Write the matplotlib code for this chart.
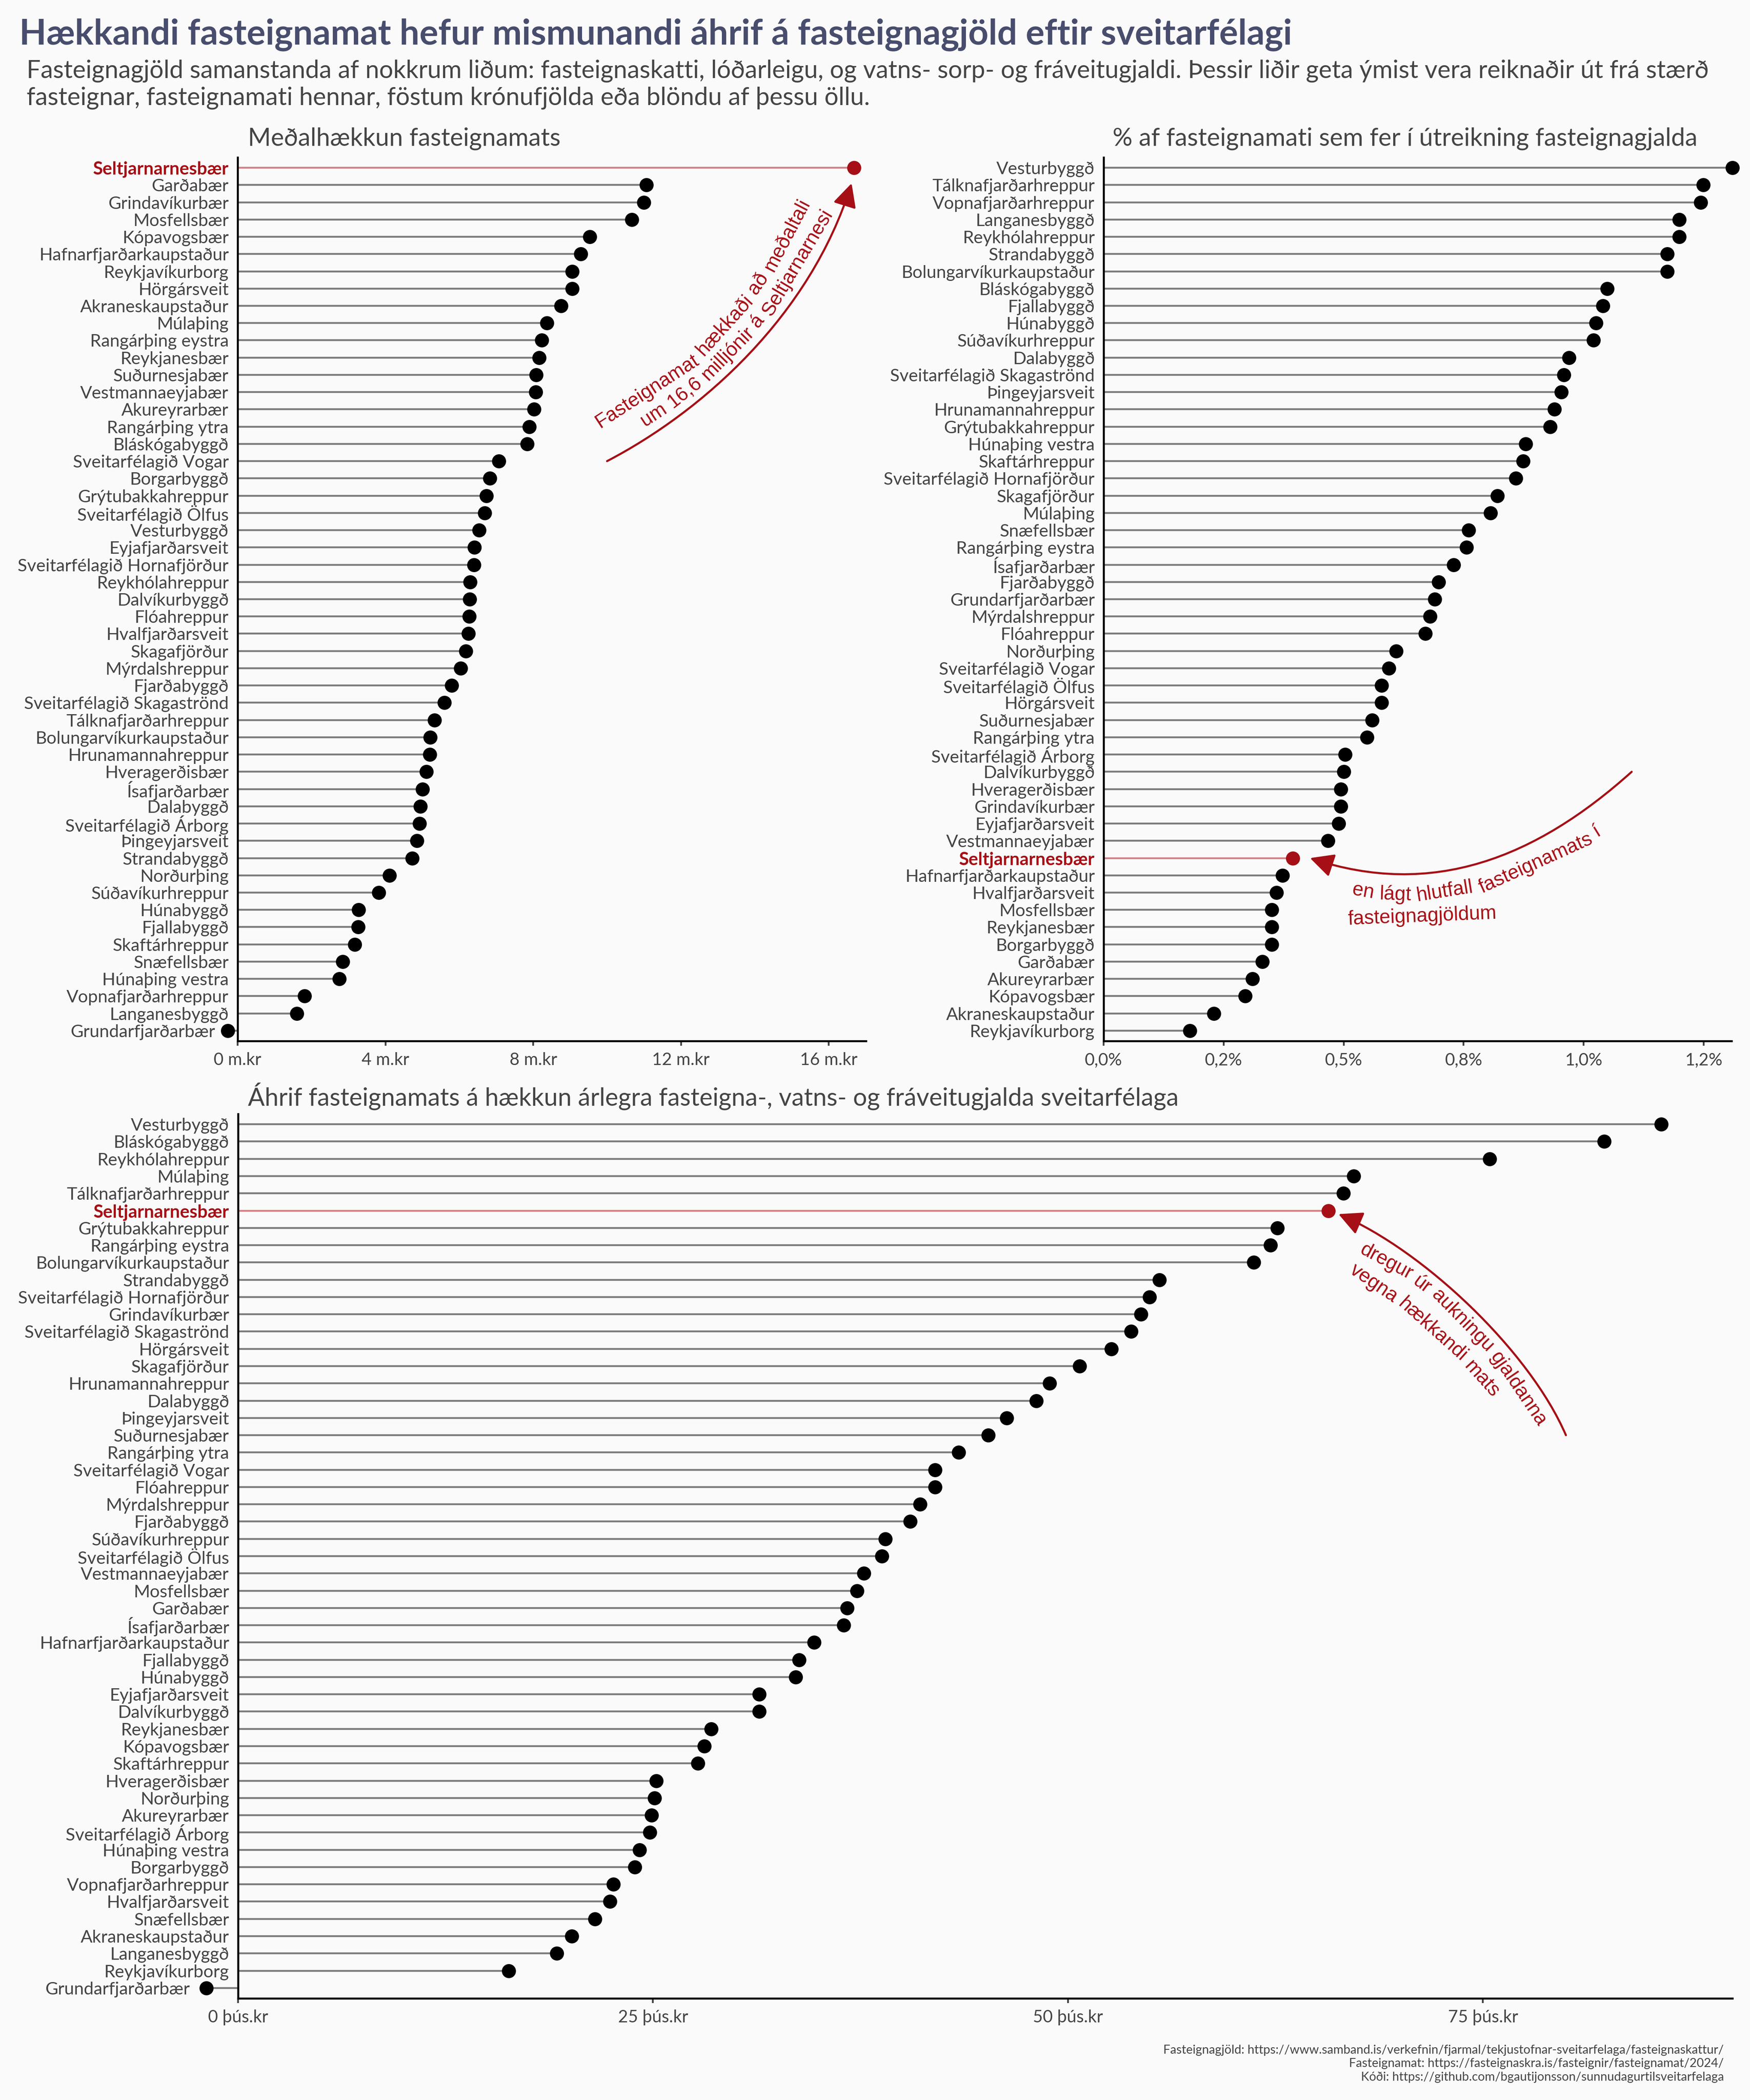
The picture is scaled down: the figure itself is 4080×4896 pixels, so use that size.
import matplotlib
matplotlib.use('Agg')
import matplotlib.pyplot as plt
import numpy as np
from matplotlib.patches import FancyArrowPatch
from matplotlib.path import Path

plt.rcParams['font.family'] = ['Lato', 'DejaVu Sans']

W, H = 4080, 4896
BG = '#fafafa'
RED = '#a50f15'
GREY = '#444444'
HL = 'Seltjarnarnesbær'

# Meðalhækkun fasteignamats (m.kr)
names_hækkun = [
    'Seltjarnarnesbær', 'Garðabær', 'Grindavíkurbær', 'Mosfellsbær', 'Kópavogsbær',
    'Hafnarfjarðarkaupstaður', 'Reykjavíkurborg', 'Hörgársveit', 'Akraneskaupstaður',
    'Múlaþing', 'Rangárþing eystra', 'Reykjanesbær', 'Suðurnesjabær', 'Vestmannaeyjabær',
    'Akureyrarbær', 'Rangárþing ytra', 'Bláskógabyggð', 'Sveitarfélagið Vogar',
    'Borgarbyggð', 'Grýtubakkahreppur', 'Sveitarfélagið Ölfus', 'Vesturbyggð',
    'Eyjafjarðarsveit', 'Sveitarfélagið Hornafjörður', 'Reykhólahreppur', 'Dalvíkurbyggð',
    'Flóahreppur', 'Hvalfjarðarsveit', 'Skagafjörður', 'Mýrdalshreppur', 'Fjarðabyggð',
    'Sveitarfélagið Skagaströnd', 'Tálknafjarðarhreppur', 'Bolungarvíkurkaupstaður',
    'Hrunamannahreppur', 'Hveragerðisbær', 'Ísafjarðarbær', 'Dalabyggð',
    'Sveitarfélagið Árborg', 'Þingeyjarsveit', 'Strandabyggð', 'Norðurþing',
    'Súðavíkurhreppur', 'Húnabyggð', 'Fjallabyggð', 'Skaftárhreppur', 'Snæfellsbær',
    'Húnaþing vestra', 'Vopnafjarðarhreppur', 'Langanesbyggð', 'Grundarfjarðarbær',
]
values_hækkun = [
    16.68, 11.07, 11.0, 10.67, 9.53, 9.29, 9.06, 9.06, 8.75, 8.37, 8.23, 8.16, 8.08,
    8.07, 8.02, 7.89, 7.84, 7.07, 6.83, 6.74, 6.69, 6.54, 6.41, 6.40, 6.29, 6.28, 6.27,
    6.25, 6.18, 6.04, 5.79, 5.60, 5.33, 5.21, 5.20, 5.11, 5.0, 4.95, 4.92, 4.85, 4.73,
    4.11, 3.82, 3.28, 3.26, 3.17, 2.84, 2.75, 1.81, 1.60, -0.27,
]

# % af fasteignamati
names_hlutfall = [
    'Vesturbyggð', 'Tálknafjarðarhreppur', 'Vopnafjarðarhreppur', 'Langanesbyggð',
    'Reykhólahreppur', 'Strandabyggð', 'Bolungarvíkurkaupstaður', 'Bláskógabyggð',
    'Fjallabyggð', 'Húnabyggð', 'Súðavíkurhreppur', 'Dalabyggð',
    'Sveitarfélagið Skagaströnd', 'Þingeyjarsveit', 'Hrunamannahreppur',
    'Grýtubakkahreppur', 'Húnaþing vestra', 'Skaftárhreppur',
    'Sveitarfélagið Hornafjörður', 'Skagafjörður', 'Múlaþing', 'Snæfellsbær',
    'Rangárþing eystra', 'Ísafjarðarbær', 'Fjarðabyggð', 'Grundarfjarðarbær',
    'Mýrdalshreppur', 'Flóahreppur', 'Norðurþing', 'Sveitarfélagið Vogar',
    'Sveitarfélagið Ölfus', 'Hörgársveit', 'Suðurnesjabær', 'Rangárþing ytra',
    'Sveitarfélagið Árborg', 'Dalvíkurbyggð', 'Hveragerðisbær', 'Grindavíkurbær',
    'Eyjafjarðarsveit', 'Vestmannaeyjabær', 'Seltjarnarnesbær',
    'Hafnarfjarðarkaupstaður', 'Hvalfjarðarsveit', 'Mosfellsbær', 'Reykjanesbær',
    'Borgarbyggð', 'Garðabær', 'Akureyrarbær', 'Kópavogsbær', 'Akraneskaupstaður',
    'Reykjavíkurborg',
]
values_hlutfall = [
    1.31, 1.249, 1.244, 1.199, 1.199, 1.174, 1.174, 1.049, 1.04, 1.026, 1.02, 0.969,
    0.959, 0.953, 0.939, 0.93, 0.879, 0.874, 0.859, 0.82, 0.806, 0.76, 0.756, 0.729,
    0.698, 0.69, 0.68, 0.67, 0.609, 0.594, 0.579, 0.579, 0.559, 0.549, 0.503, 0.50,
    0.494, 0.494, 0.49, 0.467, 0.394, 0.373, 0.36, 0.35, 0.35, 0.35, 0.331, 0.31,
    0.295, 0.23, 0.18,
]

# Áhrif á árleg gjöld (þús.kr)
names_ahrif = [
    'Vesturbyggð', 'Bláskógabyggð', 'Reykhólahreppur', 'Múlaþing', 'Tálknafjarðarhreppur',
    'Seltjarnarnesbær', 'Grýtubakkahreppur', 'Rangárþing eystra', 'Bolungarvíkurkaupstaður',
    'Strandabyggð', 'Sveitarfélagið Hornafjörður', 'Grindavíkurbær',
    'Sveitarfélagið Skagaströnd', 'Hörgársveit', 'Skagafjörður', 'Hrunamannahreppur',
    'Dalabyggð', 'Þingeyjarsveit', 'Suðurnesjabær', 'Rangárþing ytra',
    'Sveitarfélagið Vogar', 'Flóahreppur', 'Mýrdalshreppur', 'Fjarðabyggð',
    'Súðavíkurhreppur', 'Sveitarfélagið Ölfus', 'Vestmannaeyjabær', 'Mosfellsbær',
    'Garðabær', 'Ísafjarðarbær', 'Hafnarfjarðarkaupstaður', 'Fjallabyggð', 'Húnabyggð',
    'Eyjafjarðarsveit', 'Dalvíkurbyggð', 'Reykjanesbær', 'Kópavogsbær', 'Skaftárhreppur',
    'Hveragerðisbær', 'Norðurþing', 'Akureyrarbær', 'Sveitarfélagið Árborg',
    'Húnaþing vestra', 'Borgarbyggð', 'Vopnafjarðarhreppur', 'Hvalfjarðarsveit',
    'Snæfellsbær', 'Akraneskaupstaður', 'Langanesbyggð', 'Reykjavíkurborg',
    'Grundarfjarðarbær',
]
values_ahrif = [
    85.75, 82.3, 75.4, 67.2, 66.6, 65.7, 62.6, 62.2, 61.2, 55.5, 54.9, 54.4, 53.8, 52.6,
    50.7, 48.9, 48.1, 46.3, 45.2, 43.4, 42.0, 42.0, 41.1, 40.5, 39.0, 38.8, 37.7, 37.3,
    36.7, 36.5, 34.7, 33.8, 33.6, 31.4, 31.4, 28.5, 28.1, 27.7, 25.2, 25.1, 24.9, 24.8,
    24.2, 23.9, 22.6, 22.4, 21.5, 20.1, 19.2, 16.3, -1.9,
]

ticks_hækkun = [0, 4, 8, 12, 16]
ticklabels_hækkun = ['0 m.kr', '4 m.kr', '8 m.kr', '12 m.kr', '16 m.kr']
ticks_hlutfall = [0, 0.25, 0.5, 0.75, 1.0, 1.25]
ticklabels_hlutfall = ['0,0%', '0,2%', '0,5%', '0,8%', '1,0%', '1,2%']
ticks_ahrif = [0, 25, 50, 75]
ticklabels_ahrif = ['0 þús.kr', '25 þús.kr', '50 þús.kr', '75 þús.kr']


def px_axes(fig, left, top, right, bottom):
    return fig.add_axes([left / W, 1 - bottom / H, (right - left) / W, (bottom - top) / H])


def lollipop(ax, names, values, xlim, ticks, ticklabels, neg_pad):
    n = len(names)
    for i, (name, val) in enumerate(zip(names, values)):
        col = RED if name == HL else 'black'
        ax.plot([0, val], [i, i], color=col, alpha=0.5, lw=1.05, solid_capstyle='butt',
                clip_on=False, zorder=2)
        ax.scatter(val, i, s=62, color=col, linewidths=0, clip_on=False, zorder=3)
    ax.set_xlim(*xlim)
    ax.set_ylim(n - 1 + 0.6, -0.6)
    ax.set_facecolor('none')
    ax.set_yticks(range(n), names)
    ax.set_xticks(ticks, ticklabels)
    ax.tick_params(axis='y', length=0, pad=5, labelsize=9.85, labelcolor=GREY)
    ax.tick_params(axis='x', length=2.7, width=1.0, color=GREY, pad=3.6, labelsize=9.6,
                   labelcolor=GREY)
    for side in ['top', 'right']:
        ax.spines[side].set_visible(False)
    for side in ['left', 'bottom']:
        ax.spines[side].set_linewidth(1.1)
    for tick, name, val in zip(ax.yaxis.get_major_ticks(), names, values):
        if name == HL:
            tick.label1.set_color(RED)
            tick.label1.set_fontweight('bold')
            tick.label1.set_fontsize(10.05)
        if val < 0:
            tick.set_pad(neg_pad)


def curved_arrow(ax, start, ctrl1, ctrl2, end):
    path = Path([start, ctrl1, ctrl2, end], [Path.MOVETO, Path.CURVE4, Path.CURVE4, Path.CURVE4])
    arrow = FancyArrowPatch(path=path, arrowstyle='-|>,head_length=0.9,head_width=0.45',
                            mutation_scale=12.5, color=RED, lw=1.15, zorder=4, clip_on=False)
    ax.add_patch(arrow)


def text_width(fig, s):
    t = fig.text(0, 0, s, family='Liberation Sans', fontsize=11)
    w = t.get_window_extent(fig.canvas.get_renderer()).width
    t.remove()
    return w


def curved_note(fig, text, p0, c, p2):
    # orðin sett eitt og eitt eftir boga, eins og í upprunalegu myndinni
    p0, c, p2 = np.array(p0, float), np.array(c, float), np.array(p2, float)
    t = np.linspace(0, 1, 500)[:, None]
    pts = (1 - t) ** 2 * p0 + 2 * t * (1 - t) * c + t ** 2 * p2
    seglen = np.hypot(*np.diff(pts, axis=0).T)
    arc = np.concatenate([[0], np.cumsum(seglen)])
    offset = (arc[-1] - text_width(fig, text)) / 2
    words = text.split(' ')
    for i, word in enumerate(words):
        w = text_width(fig, word)
        start = text_width(fig, ' '.join(words[:i + 1])) - w
        s = offset + start + w / 2
        x = np.interp(s, arc, pts[:, 0])
        y = np.interp(s, arc, pts[:, 1])
        j = np.clip(np.searchsorted(arc, s), 1, len(pts) - 1)
        dx, dy = (pts[j] - pts[j - 1]) / np.hypot(*(pts[j] - pts[j - 1]))
        # grunnlína 12 px neðan við miðlínu
        bx, by = x - 12 * dy, y + 12 * dx
        fig.text(bx / W, 1 - by / H, word, family='Liberation Sans', color=RED, fontsize=11,
                 rotation=-np.degrees(np.arctan2(dy, dx)), rotation_mode='anchor',
                 ha='center', va='baseline')


fig = plt.figure(figsize=(W / 300, H / 300), dpi=300, facecolor=BG)

ax1 = px_axes(fig, 554, 367, 2019, 2427)
lollipop(ax1, names_hækkun, values_hækkun, (0, 17.01), ticks_hækkun, ticklabels_hækkun, 12.5)
ax2 = px_axes(fig, 2573, 367, 4037, 2427)
lollipop(ax2, names_hlutfall, values_hlutfall, (0, 1.308), ticks_hlutfall, ticklabels_hlutfall, 5)
ax3 = px_axes(fig, 555, 2597, 4039, 4659)
lollipop(ax3, names_ahrif, values_ahrif, (0, 90.03), ticks_ahrif, ticklabels_ahrif, 27)

curved_arrow(ax1, (10, 17), (12.6, 14.1), (15.5, 8.55), (16.62, 0.9))
curved_arrow(ax2, (1.1, 35), (0.9, 40.0), (0.685, 42.36), (0.43, 40))
curved_arrow(ax3, (80, 18), (77.8, 13.1), (71.4, 7.3), (66.3, 5.2))

curved_note(fig, 'Fasteignamat hækkaði að meðaltali', (1388, 980), (1720, 826), (1875, 467))
curved_note(fig, 'um 16,6 milljónir á Seltjarnarnesi', (1500, 983), (1774, 813), (1924, 491))
curved_note(fig, 'en lágt hlutfall fasteignamats í', (3160, 2075), (3413, 2128), (3723, 1937))
curved_note(fig, 'fasteignagjöldum', (3147, 2127), (3295, 2152), (3484, 2117))
curved_note(fig, 'dregur úr aukningu gjaldanna', (3173, 2915), (3404, 3006), (3592, 3321))
curved_note(fig, 'vegna hækkandi mats', (3153, 2960), (3335, 3073), (3485, 3250))

fig.text(45 / W, 1 - 81 / H, 'Hækkandi fasteignamat hefur mismunandi áhrif á fasteignagjöld eftir sveitarfélagi',
         fontsize=19.7, fontweight='bold', color='#484D6D', ha='left', va='center')
fig.text(62 / W, 1 - 165 / H,
         'Fasteignagjöld samanstanda af nokkrum liðum: fasteignaskatti, lóðarleigu, og vatns- sorp- og fráveitugjaldi. Þessir liðir geta ýmist vera reiknaðir út frá stærð',
         fontsize=13.9, color=GREY, ha='left', va='center')
fig.text(62 / W, 1 - 228 / H, 'fasteignar, fasteignamati hennar, föstum krónufjölda eða blöndu af þessu öllu.',
         fontsize=13.9, color=GREY, ha='left', va='center')
fig.text(578 / W, 1 - 323 / H, 'Meðalhækkun fasteignamats', fontsize=13.9, color=GREY, ha='left', va='center')
fig.text(2594 / W, 1 - 323 / H, '% af fasteignamati sem fer í útreikning fasteignagjalda', fontsize=13.9,
         color=GREY, ha='left', va='center')
fig.text(578 / W, 1 - 2556 / H, 'Áhrif fasteignamats á hækkun árlegra fasteigna-, vatns- og fráveitugjalda sveitarfélaga',
         fontsize=13.9, color=GREY, ha='left', va='center')

fig.text(4019 / W, 1 - 4780 / H, 'Fasteignagjöld: https://www.samband.is/verkefnin/fjarmal/tekjustofnar-sveitarfelaga/fasteignaskattur/',
         fontsize=6.9, color=GREY, ha='right', va='center')
fig.text(4019 / W, 1 - 4811 / H, 'Fasteignamat: https://fasteignaskra.is/fasteignir/fasteignamat/2024/',
         fontsize=6.9, color=GREY, ha='right', va='center')
fig.text(4019 / W, 1 - 4843 / H, 'Kóði: https://github.com/bgautijonsson/sunnudagurtilsveitarfelaga',
         fontsize=6.9, color=GREY, ha='right', va='center')

fig.savefig('out.png', dpi=300, facecolor=BG)
